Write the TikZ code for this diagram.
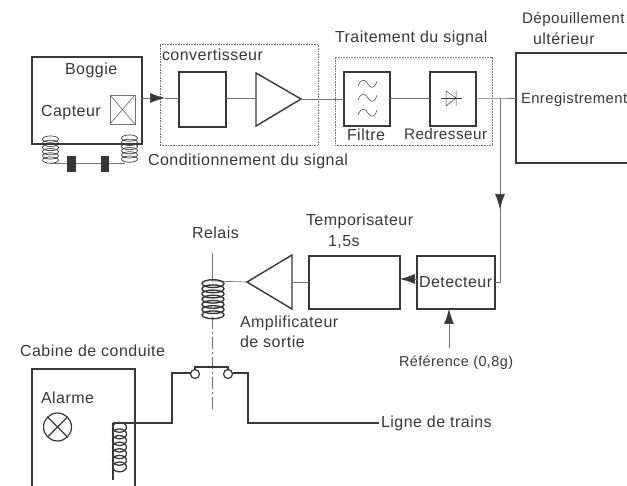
\documentclass[tikz,border=0pt]{standalone}
\usepackage{fontspec}
\setmainfont[LetterSpace=3]{Liberation Sans}
\usetikzlibrary{arrows.meta}
\definecolor{ink}{gray}{0.22}
\definecolor{lite}{gray}{0.45}
\tikzset{
  x=1pt,y=-1pt,
  every node/.style={inner sep=0pt,outer sep=0pt,text=ink,font=\fontsize{16}{18}\selectfont},
  lbl/.style={anchor=base west,yshift=-1pt},
  box/.style={draw=ink,line width=1.4pt},
  thinline/.style={draw=lite,line width=0.7pt},
  wire/.style={draw=ink,line width=1.1pt},
  zone/.style={draw=lite,line width=0.4pt,dash pattern=on 0.8pt off 0.8pt},
  arr/.style={draw=lite,line width=0.7pt,-{Latex[length=15pt,width=10pt,color=ink]}},
}
\newcommand{\coilat}[6]{% x, y top, half width, pitch, turns, width
  \foreach \k in {1,...,#5}{
    \draw[draw=ink,line width=#6] (#1,#2+#4*\k-#4*0.5) ellipse [x radius=#3,y radius=#4*0.75];
  }
}
\begin{document}
\begin{tikzpicture}
\useasboundingbox (0,0) rectangle (627,486);
\clip (0,0) rectangle (627,486);
% zones
\node[zone,minimum width=158pt,minimum height=101pt] (zconv) at (239,94.5) {};
\node[zone,minimum width=157pt,minimum height=88pt] (ztrait) at (413.5,101) {};
% boggie
\node[box,line width=1.6pt,minimum width=110pt,minimum height=87pt] (boggie) at (87,100.5) {};
\node[thinline,minimum width=25pt,minimum height=29pt] (capt) at (122.5,109.5) {};
\draw[thinline] (capt.north west) -- (capt.south east) (capt.north east) -- (capt.south west);
\coilat{50.5}{137}{8}{4.2}{6}{0.7pt}
\coilat{129.5}{136}{8}{4.2}{6}{0.7pt}
\coordinate (axL) at (50,163);
\coordinate (axR) at (125,163);
\draw[thinline] (axL) -- (axR);
\node[fill=ink,minimum width=9pt,minimum height=16pt] (w1) at (71.5,164) {};
\node[fill=ink,minimum width=8pt,minimum height=16pt] (w2) at (105,164) {};
% chain
\node[box,minimum width=47pt,minimum height=55pt] (conv) at (202.5,99.5) {};
\coordinate (ampT) at (256,73); \coordinate (ampB) at (256,126); \coordinate (ampTip) at (301,99);
\draw[box,line join=miter] (ampT) -- (ampB) -- (ampTip) -- cycle;
\node[box,line width=1.2pt,minimum width=46pt,minimum height=54pt] (filt) at (367,99) {};
\node[box,line width=1.2pt,minimum width=46pt,minimum height=54pt] (redr) at (453,99) {};
\node[box,line width=1.6pt,minimum width=160pt,minimum height=110pt] (enreg) at (596,108) {};
\coordinate (b1) at (142,98); \coordinate (b2) at (165,98);
\draw[arr] (boggie.east |- b1) -- (b2);
\draw[thinline] (b2) -- (conv.west |- b2);
\draw[thinline] (conv.east |- b1) -- (ampB |- b1);
\draw[thinline] (ampTip) -- (filt.west |- ampTip);
\draw[thinline] (filt.east |- b1) -- (redr.west |- b1);
\coordinate (split) at (500,98);
\draw[thinline] (redr.east |- b1) -- (split) -- (enreg.west |- b1);
% filter waves
\foreach \yy in {84,98,113}{
  \draw[draw=ink,line width=0.5pt] (358,\yy+2) .. controls (362,\yy-8) and (366,\yy-3) .. (368,\yy) .. controls (370,\yy+3) and (374,\yy+7) .. (377,\yy-3);
}
% diode
\coordinate (dA) at (441,98); \coordinate (dB) at (462,98);
\draw[draw=ink,line width=0.5pt] (dA) -- (dB);
\draw[draw=ink,line width=0.5pt] (446,91) -- (446,106) -- (456,98) -- cycle (456,91) -- (456,106);
% lower chain
\node[box,minimum width=78pt,minimum height=53pt] (det) at (456,282.5) {};
\node[box,minimum width=91pt,minimum height=53pt] (tempo) at (354.5,282.5) {};
\coordinate (aT) at (292,255); \coordinate (aB) at (292,309); \coordinate (aTip) at (247,282);
\draw[box] (aT) -- (aB) -- (aTip) -- cycle;
\draw[thinline] (split) -- (500,282) -- (det.east |- 0,282);
\draw[arr] (500,195) -- (500,209);
\draw[arr] (det.west |- 0,279) -- (tempo.east |- 0,279);
\draw[thinline] (aT |- 0,282) -- (tempo.west |- 0,282);
\coordinate (refb) at (449,348);
\draw[arr] (refb) -- (det.south -| refb);
% relay
\coordinate (rA) at (212,253); \coordinate (rB) at (212,281); \coordinate (rC) at (212,317); \coordinate (rD) at (212,411);
\draw[thinline] (rA) -- (rB);
\draw[thinline,dash pattern=on 12pt off 3pt on 2pt off 3pt] (rC) -- (rD);
\draw[thinline] (aTip) -- (rB);
\coilat{213}{281}{11}{5.2}{7}{1.4pt}
% cabin
\draw[box,line width=1.2pt] (32,500) -- (32,369) -- (135,369) -- (135,500);
\node[draw=ink,line width=1.2pt,circle,minimum size=28pt] (lamp) at (57.5,427) {};
\draw[draw=ink,line width=1.2pt] (lamp.north west) -- (lamp.south east) (lamp.north east) -- (lamp.south west);
\coilat{119.5}{424}{7}{6.6}{7}{1.3pt}
\coordinate (cT) at (113,423); \coordinate (cB) at (113,480);
\draw[wire] (cT) -- (cB);
% contacts
\node[draw=ink,line width=1.2pt,circle,minimum size=9pt] (c1) at (195,374) {};
\node[draw=ink,line width=1.2pt,circle,minimum size=9pt] (c2) at (228,374) {};
\draw[wire] (cT) -- (172,423) -- (172,373) -- (c1.west |- 0,373);
\draw[wire] (c2.east |- 0,373) -- (248,373) -- (248,423) -- (379,423);
\draw[wire] (c1.north) -- (195,367) -- (228,367) -- (c2.north);
% texts
\node[lbl] (t1) at (65,74) {Boggie};
\node[lbl] (t2) at (41,116) {Capteur};
\node[lbl] (t3) at (162,60) {convertisseur};
\node[lbl] (t4) at (148,165) {Conditionnement du signal};
\node[lbl] (t5) at (335,42) {Traitement du signal};
\node[lbl] (t6) at (347,140) {Filtre};
\node[lbl,font=\fontsize{15.3}{18}\selectfont] (t7) at (404,139) {Redresseur};
\node[lbl,font=\fontsize{15.2}{18}\selectfont] (t8) at (522,23) {Dépouillement};
\node[lbl] (t9) at (533,44) {ultérieur};
\node[lbl,font=\fontsize{14.8}{18}\selectfont] (t10) at (521,103) {Enregistrement};
\node[lbl] (t11) at (306,225) {Temporisateur};
\node[lbl] (t12) at (328,246) {1,5s};
\node[lbl] (t13) at (192,238) {Relais};
\node[lbl] (t14) at (419,287) {Detecteur};
\node[lbl] (t15) at (240,327) {Amplificateur};
\node[lbl] (t16) at (240,347) {de sortie};
\node[lbl,font=\fontsize{14.4}{18}\selectfont] (t17) at (399,366) {Référence (0,8g)};
\node[lbl] (t18) at (20,356) {Cabine de conduite};
\node[lbl] (t19) at (41,403) {Alarme};
\node[lbl] (t20) at (381,427) {Ligne de trains};
\end{tikzpicture}
\end{document}
